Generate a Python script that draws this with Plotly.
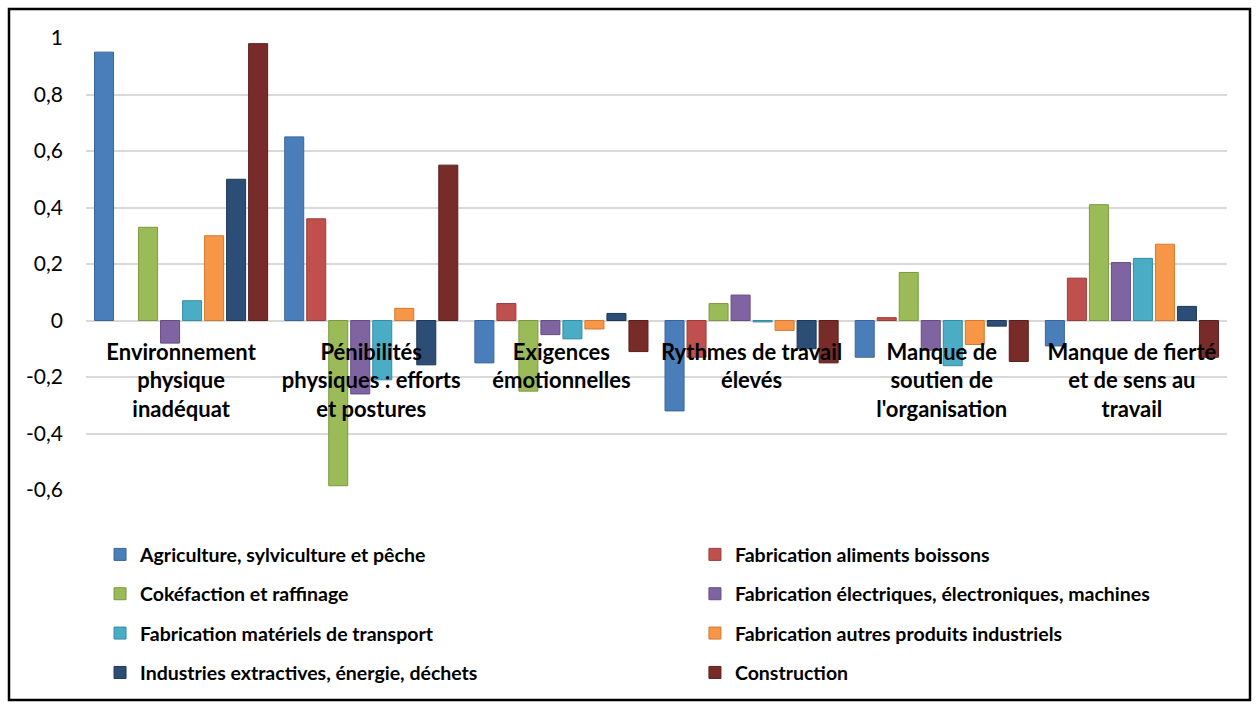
import plotly.graph_objects as go

categories = [
    "Environnement physique inadéquat",
    "Pénibilités physiques : efforts et postures",
    "Exigences émotionnelles",
    "Rythmes de travail élevés",
    "Manque de soutien de l'organisation",
    "Manque de fierté et de sens au travail",
]
tick_labels = [
    "Environnement<br>physique<br>inadéquat",
    "Pénibilités<br>physiques : efforts<br>et postures",
    "Exigences<br>émotionnelles",
    "Rythmes de travail<br>élevés",
    "Manque de<br>soutien de<br>l'organisation",
    "Manque de fierté<br>et de sens au<br>travail",
]

series_names = [
    "Agriculture, sylviculture et pêche",
    "Fabrication aliments boissons",
    "Cokéfaction et raffinage",
    "Fabrication électriques, électroniques, machines",
    "Fabrication matériels de transport",
    "Fabrication autres produits industriels",
    "Industries extractives, énergie, déchets",
    "Construction",
]

agriculture = [0.95, 0.65, -0.15, -0.32, -0.13, -0.09]
aliments = [None, 0.36, 0.06, -0.13, 0.01, 0.15]
cokefaction = [0.33, -0.585, -0.25, 0.06, 0.17, 0.41]
electriques = [-0.08, -0.26, -0.05, 0.09, -0.105, 0.205]
transport = [0.07, -0.21, -0.065, -0.005, -0.16, 0.22]
autres = [0.30, 0.043, -0.03, -0.035, -0.085, 0.27]
extractives = [0.50, -0.157, 0.025, -0.10, -0.02, 0.05]
construction = [0.98, 0.55, -0.11, -0.15, -0.145, -0.13]

series_values = [agriculture, aliments, cokefaction, electriques,
                 transport, autres, extractives, construction]
colors = ["#4A7EBB", "#C0504D", "#9BBB59", "#8064A2",
          "#4BACC6", "#F79646", "#2C4D75", "#772C2A"]
line_colors = ["#3A6498", "#9C3B38", "#7A9A40", "#634C82",
               "#348CA3", "#D07A30", "#1E3858", "#5A1F1D"]

y_ticks = [-0.6, -0.4, -0.2, 0, 0.2, 0.4, 0.6, 0.8, 1]
y_tick_labels = ["-0,6", "-0,4", "-0,2", "0", "0,2", "0,4", "0,6", "0,8", "1"]

FONT = "Lato, 'Open Sans', sans-serif"

fig = go.Figure()
for i, (name, vals, c, lc) in enumerate(zip(series_names, series_values, colors, line_colors)):
    fig.add_trace(go.Bar(
        x=categories, y=vals, name=name, legendgroup=name,
        legend="legend" if i % 2 == 0 else "legend2",
        marker=dict(color=c, line=dict(color=lc, width=1)),
    ))

legend_common = dict(
    orientation="v", xanchor="left", yanchor="top", y=-0.1,
    font=dict(family=FONT, size=19.5, color="black", weight="bold"),
    tracegroupgap=11, traceorder="grouped", bgcolor="rgba(0,0,0,0)",
)

fig.update_layout(
    width=1257, height=709,
    margin=dict(l=86, r=30, t=38, b=219, autoexpand=False),
    paper_bgcolor="white", plot_bgcolor="white",
    barmode="group", bargap=0.074, bargroupgap=0.136,
    font=dict(family=FONT, size=19, color="black"),
    showlegend=True,
    legend=dict(x=0.0123, **legend_common),
    legend2=dict(x=0.5337, **legend_common),
    xaxis=dict(
        anchor="free", position=0.375, showline=False, showgrid=False,
        ticks="", tickvals=categories, ticktext=tick_labels,
        ticklabelstandoff=16,
        tickfont=dict(family=FONT, size=22, color="black", weight="bold"),
        zeroline=False,
    ),
    yaxis=dict(
        range=[-0.6, 1.0], tickvals=y_ticks, ticktext=y_tick_labels,
        showgrid=True, gridcolor="#D9D9D9", gridwidth=1.5, zeroline=True,
        zerolinecolor="#D9D9D9", zerolinewidth=1.5, showline=False,
        ticks="", ticklabelstandoff=22,
        tickfont=dict(family=FONT, size=21, color="black"),
    ),
)

# outer chart border
fig.add_shape(type="rect", xref="paper", yref="paper",
              x0=(9 - 86) / 1141, x1=(1250 - 86) / 1141,
              y0=(490 - 700) / 452, y1=(490 - 9) / 452,
              line=dict(color="black", width=2.5), fillcolor="rgba(0,0,0,0)",
              layer="below")

fig.write_html(
    "out.html",
    config={"displayModeBar": False},
    post_script="document.documentElement.style.margin='0';"
                "document.body.style.margin='0';"
                "document.body.style.overflow='hidden';",
)
